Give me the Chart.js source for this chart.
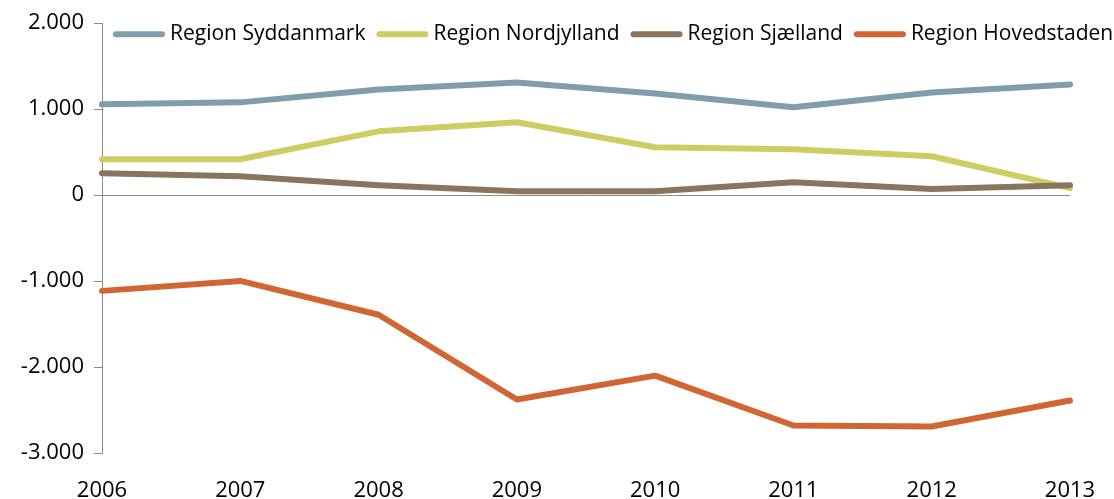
<!DOCTYPE html>
<html lang="da">
<head>
  <meta charset="UTF-8">
  <title>Regioner 2006-2013</title>
  <script src="https://cdn.jsdelivr.net/npm/chart.js"></script>
  <style>
    html, body { margin: 0; padding: 0; background: #fff; }
    #wrap { width: 1114px; height: 499px; }
  </style>
</head>
<body>
  <div id="wrap"><canvas id="regionChart"></canvas></div>

  <script>
    // Data
    const years = ['2006', '2007', '2008', '2009', '2010', '2011', '2012', '2013'];
    const syddanmark = [1056, 1079, 1230, 1311, 1183, 1021, 1195, 1288];
    const nordjylland = [418, 418, 742, 847, 557, 534, 452, 81];
    const sjaelland = [255, 220, 116, 46, 46, 151, 70, 116];
    const hovedstaden = [-1114, -998, -1392, -2378, -2100, -2680, -2691, -2390];
    const yTicks = [-3000, -2000, -1000, 0, 1000, 2000];

    const seriesNames = ['Region Syddanmark', 'Region Nordjylland', 'Region Sjælland', 'Region Hovedstaden'];
    const seriesData = [syddanmark, nordjylland, sjaelland, hovedstaden];
    const seriesColors = ['#809dab', '#cdcd64', '#89745f', '#d06733'];

    const FONT = '"Open Sans", "Liberation Sans", sans-serif';

    // tusindtalsseparator med punktum
    const fmt = v => (v < 0 ? '-' : '') + String(Math.abs(v)).replace(/\B(?=(\d{3})+(?!\d))/g, '.');

    // Legenden ligger inde i plotområdet, øverst
    const innerLegend = {
      id: 'innerLegend',
      afterDraw(chart) {
        const ctx = chart.ctx;
        const area = chart.chartArea;
        let x = area.left + 11;
        const y = area.top + 11;
        ctx.save();
        ctx.font = '21px ' + FONT;
        ctx.textBaseline = 'middle';
        chart.data.datasets.forEach(ds => {
          ctx.strokeStyle = ds.borderColor;
          ctx.lineWidth = 6;
          ctx.lineCap = 'round';
          ctx.beginPath();
          ctx.moveTo(x + 3, y);
          ctx.lineTo(x + 49, y);
          ctx.stroke();
          ctx.fillStyle = '#000';
          ctx.fillText(ds.label, x + 57, y);
          x += 57 + ctx.measureText(ds.label).width + 11;
        });
        ctx.restore();
      }
    };

    const ctx = document.getElementById('regionChart').getContext('2d');
    const regionChart = new Chart(ctx, {
      type: 'line',
      data: {
        labels: years,
        datasets: seriesNames.map((name, i) => ({
          label: name,
          data: seriesData[i],
          borderColor: seriesColors[i],
          backgroundColor: seriesColors[i],
          borderWidth: 6,
          borderCapStyle: 'round',
          borderJoinStyle: 'round',
          pointRadius: 0,
          tension: 0,
          fill: false,
          order: seriesNames.length - 1 - i
        }))
      },
      options: {
        responsive: true,
        maintainAspectRatio: false,
        animation: false,
        layout: { padding: { top: 22, right: 44, bottom: 0, left: 0 } },
        plugins: {
          legend: { display: false },
          tooltip: { enabled: false }
        },
        scales: {
          x: {
            offset: false,
            grid: { display: false, drawTicks: false },
            border: { display: false },
            ticks: {
              color: '#000',
              font: { family: FONT, size: 22 },
              padding: 25,
              maxRotation: 0,
              autoSkip: false
            },
            afterFit: s => {
              s.height = 46;
              // tick-padding skal ikke skubbe plotområdet ind fra højre
              s.paddingRight = 26;
            }
          },
          y: {
            min: yTicks[0],
            max: yTicks[yTicks.length - 1],
            afterBuildTicks: s => { s.ticks = yTicks.map(v => ({ value: v })); },
            ticks: {
              color: '#000',
              font: { family: FONT, size: 22 },
              padding: 10,
              callback: v => fmt(v)
            },
            grid: {
              color: c => (c.tick && c.tick.value === 0 ? '#8c8c8c' : 'rgba(0,0,0,0)'),
              tickColor: '#8c8c8c',
              tickLength: 8,
              lineWidth: 1
            },
            border: { display: true, color: '#8c8c8c', width: 1 },
            afterFit: s => { s.width = 102; }
          }
        }
      },
      plugins: [innerLegend]
    });
  </script>
</body>
</html>
